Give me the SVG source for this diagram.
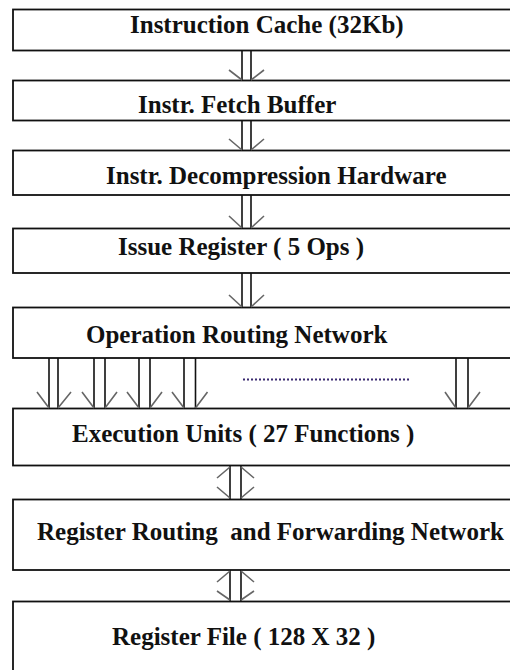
<svg xmlns="http://www.w3.org/2000/svg" width="510" height="670" viewBox="0 0 510 670">
<style>
.box{fill:#fff;stroke:#111;stroke-width:1.8}
.lbl{font-family:'Liberation Serif','DejaVu Serif',serif;font-weight:700;font-size:25px;fill:#111;white-space:pre}
.ln{stroke:#111;stroke-width:1.6;fill:none}
.barb{stroke:#666;stroke-width:1.6;fill:none}
.dots{stroke:#3a2a70;stroke-width:2.2;stroke-dasharray:2 2;fill:none}
</style>
<rect width="510" height="670" fill="#fff"/>
<g id="nodes">
<g id="n1"><rect class="box" x="13" y="9.5" width="510" height="41"/><text class="lbl" x="130" y="33">Instruction Cache (32Kb)</text></g>
<g id="n2"><rect class="box" x="13" y="80.5" width="510" height="40"/><text class="lbl" x="138" y="113">Instr. Fetch Buffer</text></g>
<g id="n3"><rect class="box" x="13" y="150.5" width="510" height="44.5"/><text class="lbl" x="106" y="184">Instr. Decompression Hardware</text></g>
<g id="n4"><rect class="box" x="13" y="228.5" width="510" height="44.5"/><text class="lbl" x="118" y="255">Issue Register ( 5 Ops )</text></g>
<g id="n5"><rect class="box" x="13" y="307.5" width="510" height="50.5"/><text class="lbl" x="86" y="343">Operation Routing Network</text></g>
<g id="n6"><rect class="box" x="13" y="408.5" width="510" height="57"/><text class="lbl" x="72" y="442">Execution Units ( 27 Functions )</text></g>
<g id="n7"><rect class="box" x="13" y="499.5" width="510" height="70.5"/><text class="lbl" x="37" y="540" xml:space="preserve">Register Routing  and Forwarding Network</text></g>
<g id="n8"><rect class="box" x="13" y="601.5" width="510" height="90"/><text class="lbl" x="112" y="645">Register File ( 128 X 32 )</text></g>
</g>
<g id="connectors">
<g id="c1"><path class="ln" d="M242 50.5V80.5M251 50.5V80.5"/><path class="barb" d="M229 70L242 80M264 70L251 80"/></g>
<g id="c2"><path class="ln" d="M242 120.5V150.5M251 120.5V150.5"/><path class="barb" d="M229 139L242 150M264 139L251 150"/></g>
<g id="c3"><path class="ln" d="M242 195V228.5M251 195V228.5"/><path class="barb" d="M229 216L242 228M264 216L251 228"/></g>
<g id="c4"><path class="ln" d="M242 273V307.5M251 273V307.5"/><path class="barb" d="M229 295L242 307M264 295L251 307"/></g>
<g id="c5a"><path class="ln" d="M49 358V408.5M58 358V408.5"/><path class="barb" d="M37 392L49 408M71 392L58 408"/></g>
<g id="c5b"><path class="ln" d="M94 358V408.5M105 358V408.5"/><path class="barb" d="M82 392L94 408M117 392L105 408"/></g>
<g id="c5c"><path class="ln" d="M139 358V408.5M150 358V408.5"/><path class="barb" d="M127 392L139 408M162 392L150 408"/></g>
<g id="c5d"><path class="ln" d="M184 358V408.5M195.5 358V408.5"/><path class="barb" d="M172 392L184 408M207.5 392L195.5 408"/></g>
<g id="c5e"><path class="ln" d="M456 358V408.5M468 358V408.5"/><path class="barb" d="M445 392L456 408M480 392L468 408"/></g>
<path id="ellipsis" class="dots" d="M243 379.5H411"/>
<g id="c6"><path class="ln" d="M230 465.5V499.5M241 465.5V499.5"/><path class="barb" d="M217 478L230 467M254 478L241 467M217 487L230 498M254 487L241 498"/></g>
<g id="c7"><path class="ln" d="M230 570V601.5M241 570V601.5"/><path class="barb" d="M217 582L230 571M254 582L241 571M217 591L230 600M254 591L241 600"/></g>
</g>
</svg>
